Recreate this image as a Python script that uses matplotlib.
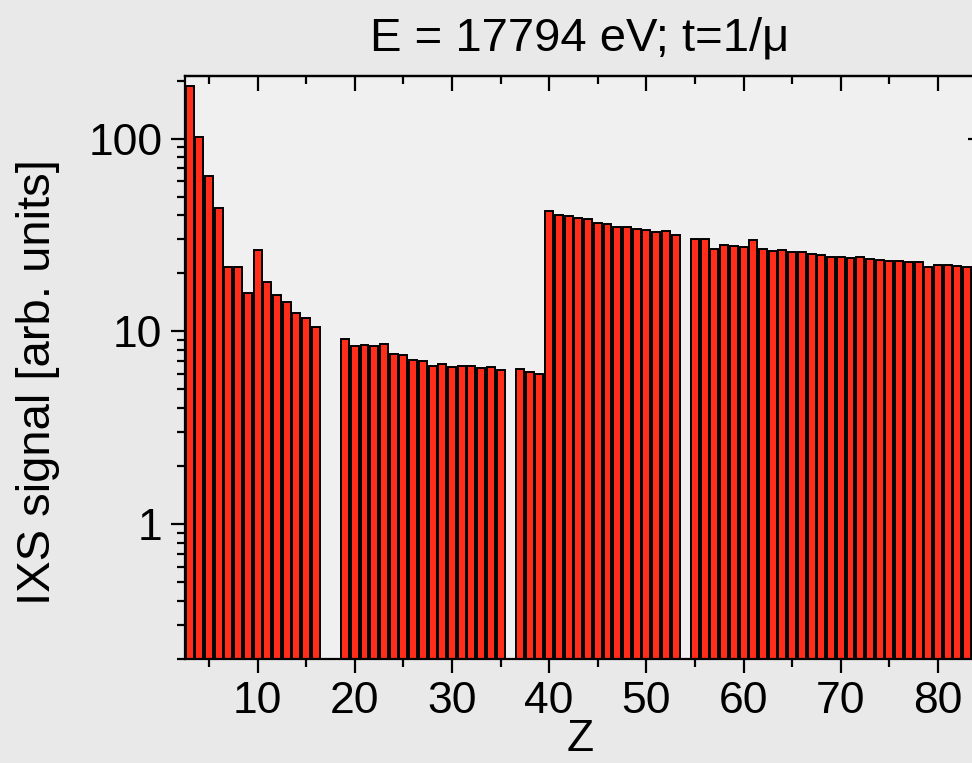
import numpy as np
import matplotlib
matplotlib.use('Agg')
import matplotlib.pyplot as plt
from matplotlib.ticker import FixedLocator, NullFormatter, LogLocator

plt.rcParams['font.family'] = ['Liberation Sans', 'DejaVu Sans']

# Numero atomico Z (faltan 17, 18, 36, 54)
z = [3, 4, 5, 6, 7, 8, 9, 10, 11, 12, 13, 14, 15, 16,
     19, 20, 21, 22, 23, 24, 25, 26, 27, 28, 29, 30, 31, 32, 33, 34, 35,
     37, 38, 39, 40, 41, 42, 43, 44, 45, 46, 47, 48, 49, 50, 51, 52, 53,
     55, 56, 57, 58, 59, 60, 61, 62, 63, 64, 65, 66, 67, 68, 69, 70, 71,
     72, 73, 74, 75, 76, 77, 78, 79, 80, 81, 82, 83]

# Senal IXS [unidades arb.]
senal = [188, 101.6, 64, 43.5, 21.7, 21.7, 15.8, 26.5, 18.0, 15.5, 14.2, 12.5, 11.8, 10.6,
         9.1, 8.4, 8.5, 8.4, 8.57, 7.64, 7.55, 7.14, 7.06, 6.63, 6.76, 6.55, 6.63, 6.58, 6.47, 6.52, 6.32,
         6.39, 6.15, 6.03, 41.9, 40.3, 39.6, 38.8, 38.1, 36.6, 35.9, 34.9, 34.6, 33.8, 33.4, 32.9, 33.0, 31.7,
         30.3, 30.2, 26.9, 28.2, 27.9, 27.5, 29.7, 26.9, 26.2, 26.5, 25.8, 25.7, 25.3, 25.0, 24.4, 24.4, 24.1,
         24.2, 23.7, 23.5, 23.2, 23.3, 22.8, 22.8, 21.7, 22.2, 22.2, 21.8, 21.6]

yticks = [1, 10, 100]
ytick_labels = ['1', '10', '100']
xticks = [10, 20, 30, 40, 50, 60, 70, 80]

fig = plt.figure(figsize=(9.72, 7.63), dpi=100, facecolor='#e9e9e9')
ax = fig.add_axes([0.190, 0.1363, 0.813, 0.7645])
ax.set_facecolor('#f0f0f0')

ax.bar(z, np.array(senal) - 0.01, bottom=0.01, width=0.82, color='#ff2d19',
       edgecolor='black', linewidth=1.4)

ax.set_yscale('log')
ax.set_ylim(0.2, 212)
ax.set_xlim(2.5, 83.8)

ax.yaxis.set_major_locator(FixedLocator(yticks))
ax.set_yticklabels(ytick_labels)
ax.yaxis.set_minor_locator(LogLocator(base=10, subs=np.arange(2, 10)))
ax.yaxis.set_minor_formatter(NullFormatter())

ax.set_xticks(xticks)
ax.set_xticks(np.arange(5, 85, 10), minor=True)

for s in ax.spines.values():
    s.set_linewidth(1.6)
    s.set_zorder(5)

ax.tick_params(axis='both', which='major', labelsize=32, width=1.6, pad=6)
ax.tick_params(axis='x', which='major', direction='out', length=10)
ax.tick_params(axis='x', which='minor', direction='out', length=6, width=1.6)
ax.tick_params(axis='y', which='major', direction='out', length=10)
ax.tick_params(axis='y', which='minor', direction='out', length=6, width=1.6)

# ejes arriba y derecha con marcas hacia adentro
top = ax.secondary_xaxis('top')
top.set_xticks(xticks)
top.set_xticks(np.arange(5, 85, 10), minor=True)
top.tick_params(which='major', direction='in', length=11, width=1.6, labeltop=False)
top.tick_params(which='minor', direction='in', length=6, width=1.6)
top.spines['top'].set_linewidth(1.6)

right = ax.secondary_yaxis('right')
right.set_yticks(yticks)
right.tick_params(which='major', direction='in', length=5, width=1.6, labelright=False)
right.tick_params(which='minor', length=0)

ax.set_xlabel('Z', fontsize=32, labelpad=-2)
ax.set_ylabel('IXS signal [arb. units]', fontsize=34)
ax.yaxis.set_label_coords(-0.158, 0.474)
ax.set_title('E = 17794 eV; t=1/μ', fontsize=34, pad=18)

plt.savefig('out.png', dpi=100, facecolor=fig.get_facecolor())
